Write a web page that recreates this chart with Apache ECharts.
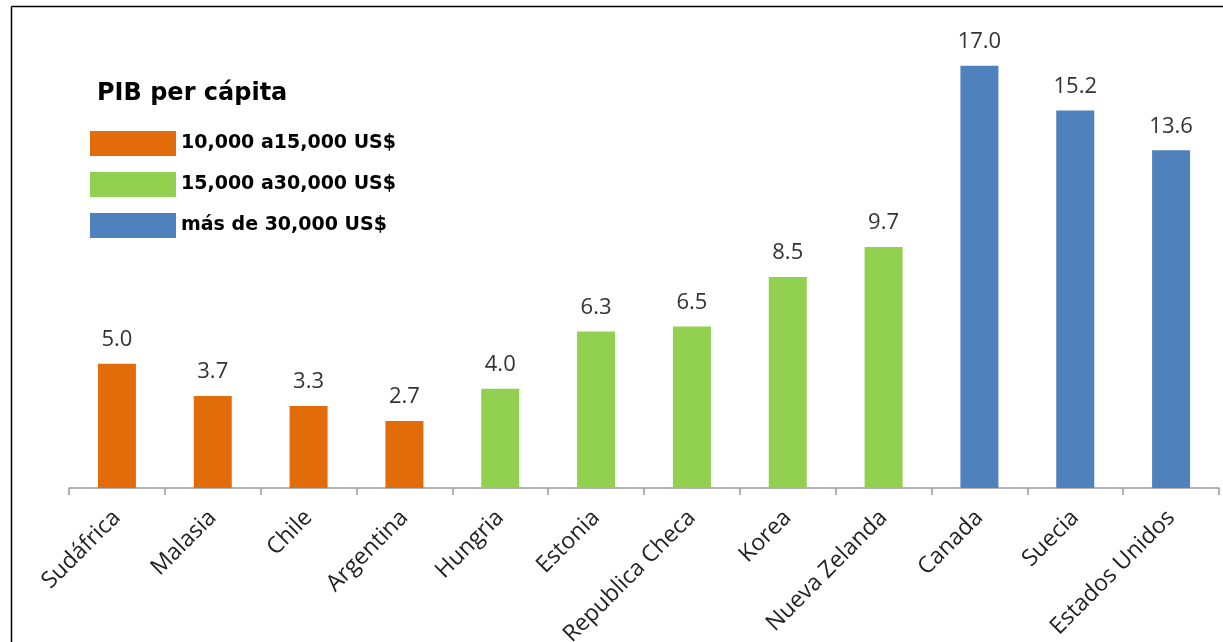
<!DOCTYPE html>
<html>
<head>
<meta charset="utf-8">
<script src="https://cdn.jsdelivr.net/npm/echarts@6/dist/echarts.min.js"></script>
<style>
html,body{margin:0;padding:0;background:#fff;}
#c{width:1223px;height:642px;}
</style>
</head>
<body>
<div id="c"></div>
<script>
const categories = ['Sudáfrica','Malasia','Chile','Argentina','Hungria','Estonia','Republica Checa','Korea','Nueva Zelanda','Canada','Suecia','Estados Unidos'];
const groupNames = ['10,000 a15,000 US$','15,000 a30,000 US$','más de 30,000 US$'];
const lowIncome  = [5.0, 3.7, 3.3, 2.7, null, null, null, null, null, null, null, null];
const midIncome  = [null, null, null, null, 4.0, 6.3, 6.5, 8.5, 9.7, null, null, null];
const highIncome = [null, null, null, null, null, null, null, null, null, 17.0, 15.2, 13.6];
const colors = ['#E36C0A', '#92D050', '#4F81BD'];
const titleText = 'PIB per cápita';

const font = '"Open Sans", "DejaVu Sans", sans-serif';
const boldFont = '"DejaVu Sans", sans-serif';
const chart = echarts.init(document.getElementById('c'));
const seriesData = [lowIncome, midIncome, highIncome];
chart.setOption({
  animation: false,
  title: {
    text: titleText, left: 92, top: 77,
    textStyle: {fontFamily: boldFont, fontSize: 24, fontWeight: 'bold', color: '#000'}
  },
  legend: {
    orient: 'vertical', left: 85, top: 126,
    itemWidth: 86, itemHeight: 25, itemGap: 16,
    icon: 'rect',
    data: groupNames,
    selectedMode: false,
    textStyle: {fontFamily: boldFont, fontSize: 19, fontWeight: 'bold', color: '#000'}
  },
  graphic: [
    {type: 'line', shape: {x1: 11.5, y1: 6.5, x2: 1223, y2: 6.5}, style: {stroke: '#000', lineWidth: 1.5}, silent: true},
    {type: 'line', shape: {x1: 11.5, y1: 6.5, x2: 11.5, y2: 642}, style: {stroke: '#000', lineWidth: 1.5}, silent: true}
  ],
  grid: {left: 69, right: 4, top: 41, bottom: 154, containLabel: false, outerBoundsMode: 'none'},
  xAxis: {
    type: 'category', data: categories,
    axisLine: {lineStyle: {color: '#999', width: 1.5}},
    axisTick: {show: true, length: 7, lineStyle: {color: '#999', width: 1.5}},
    axisLabel: {rotate: 45, interval: 0, margin: 26, fontFamily: font, fontSize: 23, color: '#222'}
  },
  yAxis: {type: 'value', min: 0, max: 18, show: false, splitLine: {show: false}},
  series: seriesData.map((d, i) => ({
    name: groupNames[i], type: 'bar', stack: 'all', data: d,
    barWidth: 38,
    itemStyle: {color: colors[i]},
    label: {
      show: true, position: 'top', distance: 13,
      fontFamily: font, fontSize: 22, color: '#333',
      formatter: p => (p.value == null ? '' : Number(p.value).toFixed(1))
    }
  }))
});
</script>
</body>
</html>
